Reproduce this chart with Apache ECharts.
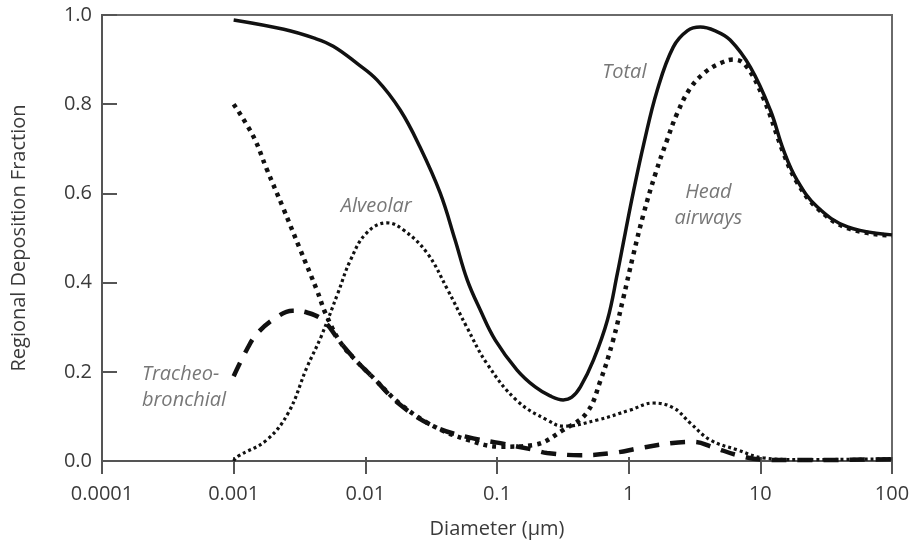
<!DOCTYPE html>
<html>
<head>
<meta charset="utf-8">
<script src="https://cdn.jsdelivr.net/npm/echarts@6/dist/echarts.min.js"></script>
<style>
html,body{margin:0;padding:0;background:#fff;}
#chart{width:918px;height:541px;}
</style>
</head>
<body>
<div id="chart"></div>
<script>
// ---- data (diameter in µm, regional deposition fraction) ----
var xTickLabels = ['0.0001', '0.001', '0.01', '0.1', '1', '10', '100'];
var yTickLabels = ['0.0', '0.2', '0.4', '0.6', '0.8', '1.0'];

var totalD = [0.001, 0.0024, 0.0041, 0.0057, 0.0086, 0.0123, 0.0184, 0.026, 0.037, 0.048, 0.0594, 0.0745, 0.097, 0.142, 0.195, 0.253, 0.318, 0.37, 0.43, 0.54, 0.69, 0.82, 0.94, 1.08, 1.3, 1.65, 2.18, 2.8, 3.5, 4.5, 5.9, 8.4, 11.9, 15, 19, 27, 46, 100];
var totalF = [0.989, 0.968, 0.948, 0.930, 0.892, 0.854, 0.787, 0.704, 0.601, 0.496, 0.406, 0.339, 0.271, 0.204, 0.166, 0.146, 0.137, 0.143, 0.166, 0.226, 0.316, 0.420, 0.510, 0.600, 0.710, 0.832, 0.928, 0.965, 0.973, 0.965, 0.944, 0.883, 0.787, 0.697, 0.630, 0.570, 0.525, 0.507];

var headD = [0.001, 0.00141, 0.00178, 0.00237, 0.00316, 0.0043, 0.005, 0.0065, 0.0087, 0.0112, 0.0184, 0.033, 0.059, 0.106, 0.19, 0.32, 0.48, 0.61, 0.76, 0.91, 1.08, 1.3, 1.6, 1.96, 2.34, 2.94, 3.82, 4.97, 6.24, 7.69, 10.5, 15, 19, 27, 46, 100];
var headF = [0.800, 0.728, 0.655, 0.568, 0.478, 0.382, 0.330, 0.265, 0.222, 0.190, 0.128, 0.078, 0.048, 0.032, 0.036, 0.070, 0.108, 0.180, 0.270, 0.365, 0.460, 0.555, 0.645, 0.720, 0.780, 0.836, 0.872, 0.892, 0.900, 0.888, 0.815, 0.690, 0.625, 0.567, 0.522, 0.505];

var alveolarD = [0.001, 0.00107, 0.00178, 0.0026, 0.0036, 0.0046, 0.0062, 0.0077, 0.0102, 0.0146, 0.0195, 0.0295, 0.042, 0.059, 0.084, 0.142, 0.24, 0.32, 0.58, 1.02, 1.54, 2.19, 2.94, 4.17, 6.7, 10.5, 20, 100];
var alveolarF = [0.000, 0.010, 0.047, 0.108, 0.210, 0.278, 0.377, 0.450, 0.511, 0.534, 0.518, 0.466, 0.385, 0.300, 0.218, 0.135, 0.092, 0.078, 0.092, 0.114, 0.130, 0.119, 0.085, 0.047, 0.025, 0.007, 0.003, 0.005];

var tbD = [0.001, 0.00126, 0.0015, 0.00206, 0.0028, 0.0036, 0.0048, 0.0065, 0.0087, 0.0112, 0.0184, 0.033, 0.059, 0.106, 0.19, 0.24, 0.43, 0.76, 1.22, 2.07, 3.1, 4.37, 6.7, 10.5, 20, 100];
var tbF = [0.190, 0.250, 0.285, 0.320, 0.337, 0.333, 0.315, 0.265, 0.222, 0.190, 0.126, 0.078, 0.054, 0.040, 0.025, 0.018, 0.013, 0.018, 0.029, 0.040, 0.043, 0.031, 0.013, 0.003, 0.002, 0.004];

var annotationNames = ['Total', 'Head\nairways', 'Alveolar', 'Tracheo-\nbronchial'];
var annotationX = [0.927, 4.03, 0.0121, 0.000201];
var annotationY = [0.872, 0.574, 0.570, 0.166];

// ---- build ----
function pairs(xs, ys) { return xs.map(function (x, i) { return [x, ys[i]]; }); }

var FONT = '"Open Sans", "Noto Sans", sans-serif';
var TEXT = '#3a3a3a';
var AXIS = '#555';

var chart = echarts.init(document.getElementById('chart'), null, { renderer: 'canvas' });

function lineSeries(name, xs, ys, width, type, z) {
  return {
    name: name, type: 'line', data: pairs(xs, ys), smooth: 0.4,
    showSymbol: false, symbol: 'none', z: z,
    lineStyle: { color: '#111', width: width, type: type, cap: 'butt' },
    animation: false
  };
}

var annotationData = annotationNames.map(function (n, i) {
  return {
    value: [annotationX[i], annotationY[i]], name: n,
    label: { align: n.indexOf('Tracheo') === 0 ? 'left' : 'center' }
  };
});

var logLabel = function (v) {
  var k = Math.round(Math.log10(v)) + 4;
  return xTickLabels[k] !== undefined ? xTickLabels[k] : '';
};

var option = {
  backgroundColor: '#fff',
  animation: false,
  grid: {
    left: 102, right: 26, top: 15, bottom: 80,
    show: true, borderColor: '#6a6a6a', borderWidth: 2,
    containLabel: false, outerBoundsMode: 'none'
  },
  xAxis: [{
    type: 'log', logBase: 10, min: 0.0001, max: 100,
    name: 'Diameter (\u00b5m)', nameLocation: 'middle', nameGap: 58,
    nameTextStyle: { fontFamily: FONT, fontSize: 20, color: TEXT },
    axisLine: { show: true, lineStyle: { color: AXIS, width: 2 } },
    axisTick: { show: true, inside: false, length: 13, lineStyle: { color: AXIS, width: 2 } },
    minorTick: { show: false },
    splitLine: { show: false },
    axisLabel: { margin: 23, fontFamily: FONT, fontSize: 20, color: TEXT, formatter: logLabel }
  }, {
    type: 'log', logBase: 10, min: 0.0001, max: 100, position: 'bottom',
    axisLine: { show: false },
    axisTick: { show: true, inside: true, length: 4, lineStyle: { color: AXIS, width: 2 } },
    axisLabel: { show: false }, splitLine: { show: false }
  }],
  yAxis: {
    type: 'value', min: 0, max: 1, interval: 0.2,
    name: 'Regional Deposition Fraction', nameLocation: 'middle', nameGap: 73,
    nameTextStyle: { fontFamily: FONT, fontSize: 20, color: TEXT },
    axisLine: { show: true, lineStyle: { color: AXIS, width: 2 } },
    axisTick: { show: true, inside: true, length: 15, lineStyle: { color: AXIS, width: 2 } },
    splitLine: { show: false },
    axisLabel: {
      margin: 10, fontFamily: FONT, fontSize: 20, color: TEXT,
      formatter: function (v) { return yTickLabels[Math.round(v / 0.2)]; }
    }
  },
  series: [
    lineSeries('Tracheobronchial', tbD, tbF, 4.5, [15, 11], 2),
    lineSeries('Alveolar', alveolarD, alveolarF, 3.2, [3, 3], 3),
    lineSeries('Head airways', headD, headF, 4.5, [4, 5], 4),
    lineSeries('Total', totalD, totalF, 3.5, 'solid', 5),
    {
      name: 'labels', type: 'scatter', data: annotationData,
      symbolSize: 0, silent: true, z: 6,
      label: {
        show: true, position: 'inside', formatter: '{b}',
        fontFamily: FONT, fontSize: 20, fontStyle: 'italic', color: '#555',
        lineHeight: 26
      },
      animation: false
    }
  ]
};
chart.setOption(option);
</script>
</body>
</html>
